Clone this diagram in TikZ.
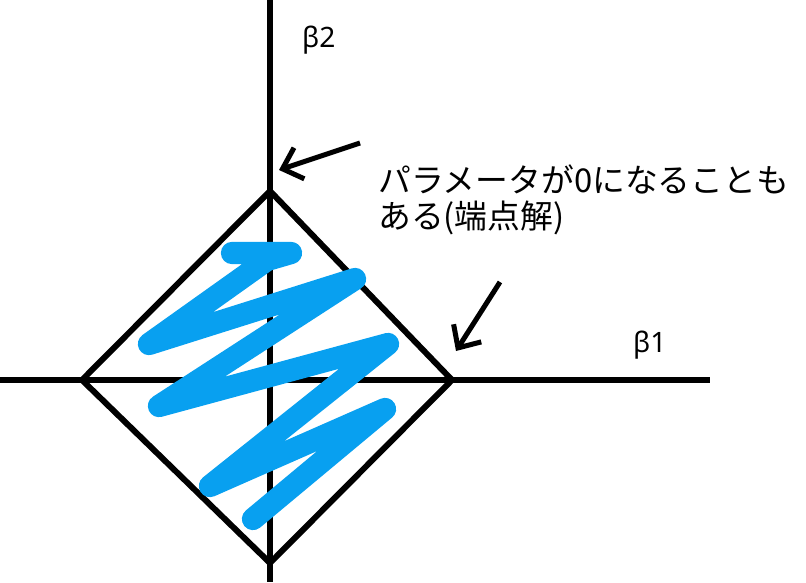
\documentclass[tikz,border=0pt]{standalone}
\usepackage{fontspec}
\setmainfont{Noto Sans CJK JP}
\newfontfamily\betafont{Noto Sans}
\usetikzlibrary{arrows.meta}
\definecolor{penblue}{RGB}{8,160,240}

\begin{document}
\begin{tikzpicture}[x=0.03cm, y=-0.03cm,
    axis/.style={line width=5.1pt},
    pointer/.style={line width=4.3pt, -{Straight Barb[length=15pt, width=28pt]}},
    scribble/.style={penblue, line width=19pt, line cap=round, line join=round},
    betalabel/.style={font=\betafont\fontsize{24}{28}\selectfont, anchor=base west, inner sep=0pt},
    notelabel/.style={font=\fontsize{28}{34}\selectfont, anchor=base west, inner sep=0pt}]
    \useasboundingbox (0,0) rectangle (806,582);

    % axes
    \draw[axis] (0,380) -- (710,380);
    \draw[axis] (270,0) -- (270,582);

    % constraint region
    \draw[axis] (270,191) coordinate (top) -- (452,380) coordinate (right)
      -- (270,563) coordinate (bottom) -- (82,380) coordinate (left) -- cycle;

    % scribble
    \draw[scribble] (232,253) -- (291,253) -- (267,260) -- (149,344) -- (355,279)
      -- (159,406) -- (388,344) -- (210,486) -- (385,409) -- (253,519);

    \node[betalabel] (b2) at (302,47) {β2};
    \node[betalabel] (b1) at (633,352) {β1};

    \node[notelabel] (note1) at (378,192) {パラメータが0になることも};
    \node[notelabel] (note2) at (378,228) {ある(端点解)};

    \coordinate (tail1) at (360,143);
    \coordinate (tip1) at (279,170);
    \coordinate (tail2) at (500,282);
    \coordinate (tip2) at (456,351);
    \draw[pointer] (tail1) -- (tip1);
    \draw[pointer] (tail2) -- (tip2);
\end{tikzpicture}
\end{document}
